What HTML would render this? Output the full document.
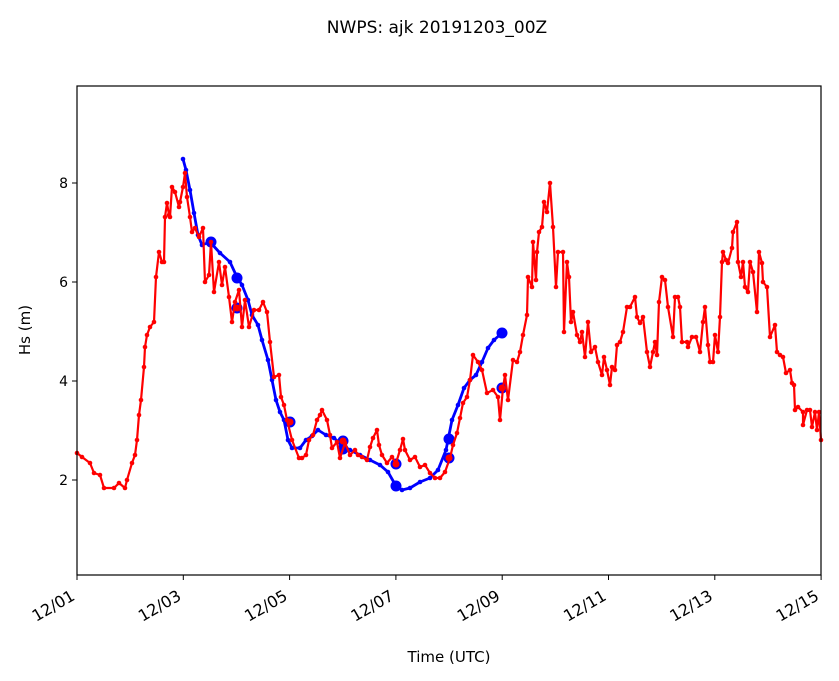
<!DOCTYPE html>
<html><head><meta charset="utf-8"><style>body{margin:0;background:#fff}svg{display:block;font-family:"DejaVu Sans","Liberation Sans",sans-serif}</style></head>
<body>
<svg id="s" width="839" height="681" xmlns="http://www.w3.org/2000/svg">
<rect width="839" height="681" fill="#fff"/>
<text x="437" y="33" font-size="17" text-anchor="middle">NWPS: ajk 20191203_00Z</text>
<g id="plot"></g>
<rect x="77" y="86" width="744" height="489" fill="none" stroke="#000" stroke-width="1.2"/>
<g font-size="14" text-anchor="end">
<text x="68" y="485">2</text><text x="68" y="386">4</text><text x="68" y="287">6</text><text x="68" y="188">8</text>
</g>
<g stroke="#000" stroke-width="1">
<line x1="72" y1="480" x2="77" y2="480"/><line x1="72" y1="381" x2="77" y2="381"/><line x1="72" y1="282" x2="77" y2="282"/><line x1="72" y1="183" x2="77" y2="183"/>
</g>
<g id="xt" font-size="16" text-anchor="end"></g>
<text x="30" y="330" font-size="15" text-anchor="middle" transform="rotate(-90 30 330)">Hs (m)</text>
<text x="449" y="662" font-size="15" text-anchor="middle">Time (UTC)</text>
</svg>
<script>
var NS="http://www.w3.org/2000/svg";
function el(p,t,a){var e=document.createElementNS(NS,t);for(var k in a)e.setAttribute(k,a[k]);p.appendChild(e);return e;}
var xt=document.getElementById('xt'),svg=document.getElementById('s');
var labs=["12/01","12/03","12/05","12/07","12/09","12/11","12/13","12/15"];
for(var i=0;i<8;i++){var x=77+i*106.3;el(svg,'line',{x1:x,y1:575,x2:x,y2:580,stroke:'#000'});
var t=el(xt,'text',{x:x-1,y:599,transform:'rotate(-30 '+(x-1)+' 599)'});t.textContent=labs[i];}
var g=document.getElementById('plot');
var blue=[[183,159],[186,170],[190,190],[194,213],[198,235],[202,245],[210,242],[220,253],[230,262],[236,275],[242,285],[248,300],[252,315],[258,325],[262,340],[268,360],[272,380],[276,400],[280,412],[284,420],[288,440],[292,448],[300,448],[306,440],[312,436],[318,430],[326,435],[334,438],[342,445],[350,450],[360,455],[370,460],[380,465],[388,472],[396,486],[402,490],[410,488],[420,482],[430,478],[438,470],[446,450],[452,420],[458,405],[464,388],[470,380],[476,375],[482,362],[488,348],[494,340],[502,333]];
var red=[[77,453],[82,457],[90,463],[94,473],[100,475],[104,488],[114,488],[119,483],[125,488],[127,480],[132,463],[135,455],[137,440],[139,415],[141,400],[144,367],[145,347],[147,335],[150,327],[154,322],[156,277],[159,252],[162,262],[164,262],[165,217],[167,203],[169,215],[170,217],[172,187],[175,192],[179,207],[180,202],[183,187],[185,173],[187,197],[190,217],[192,232],[195,228],[199,237],[203,228],[205,282],[209,275],[211,242],[214,292],[219,262],[222,285],[225,267],[229,297],[232,322],[235,302],[239,290],[242,327],[245,300],[249,327],[254,310],[259,310],[263,302],[267,312],[270,342],[274,377],[279,375],[281,397],[284,405],[287,420],[292,440],[299,458],[302,458],[306,455],[309,440],[313,435],[317,420],[320,415],[322,410],[327,420],[330,435],[332,448],[337,442],[340,458],[345,443],[350,455],[355,450],[358,455],[362,457],[367,460],[370,447],[373,438],[377,430],[379,445],[382,455],[387,463],[392,457],[396,463],[400,450],[403,439],[405,450],[410,460],[415,457],[420,467],[425,465],[430,473],[435,478],[440,478],[445,472],[450,458],[453,445],[457,433],[460,418],[463,403],[467,397],[470,380],[473,355],[478,362],[482,370],[487,393],[493,390],[498,397],[500,420],[503,388],[505,375],[508,400],[513,360],[517,362],[520,352],[523,335],[527,315],[528,277],[532,287],[533,242],[536,280],[537,252],[539,232],[542,227],[544,202],[547,212],[550,183],[553,227],[556,287],[558,252],[563,252],[564,332],[567,262],[569,277],[571,322],[573,312],[577,335],[580,342],[582,332],[585,357],[588,322],[591,352],[595,347],[598,362],[602,375],[604,357],[607,370],[610,385],[612,367],[615,370],[617,345],[620,342],[623,332],[627,307],[630,307],[635,297],[637,317],[640,323],[643,317],[647,352],[650,367],[653,352],[655,342],[657,355],[659,302],[662,277],[665,280],[668,307],[673,337],[675,297],[678,297],[680,307],[682,342],[687,342],[688,347],[692,337],[696,337],[700,352],[703,322],[705,307],[708,345],[710,362],[713,362],[715,335],[718,352],[720,317],[722,262],[723,252],[726,260],[728,263],[732,248],[733,232],[737,222],[738,262],[741,277],[743,262],[745,287],[748,292],[750,262],[753,272],[757,312],[759,252],[762,263],[763,282],[767,287],[770,337],[775,325],[777,352],[780,355],[783,357],[786,373],[790,370],[792,383],[794,385],[795,410],[798,407],[803,412],[803,425],[807,410],[810,410],[812,427],[815,412],[817,430],[819,412],[821,440]];
function series(d,c,w){el(g,'polyline',{points:d.map(function(p){return p.join(',')}).join(' '),fill:'none',stroke:c,'stroke-width':w,'stroke-linejoin':'round'});
d.forEach(function(p){el(g,'circle',{cx:p[0],cy:p[1],r:2.3,fill:c});});}
series(blue,'#0000ff',2.8);
[[211,242],[237,278],[237,308],[290,422],[343,441],[343,449],[396,464],[396,486],[449,439],[449,458],[502,333],[502,388]].forEach(function(p){el(g,'circle',{cx:p[0],cy:p[1],r:5.5,fill:'#0000ff'});});
series(red,'#ff0000',2.2);
[[237,308],[290,422],[343,441],[396,464],[449,458],[502,388]].forEach(function(p){el(g,'circle',{cx:p[0],cy:p[1],r:3.5,fill:'#ff0000'});});
</script>
</body></html>
